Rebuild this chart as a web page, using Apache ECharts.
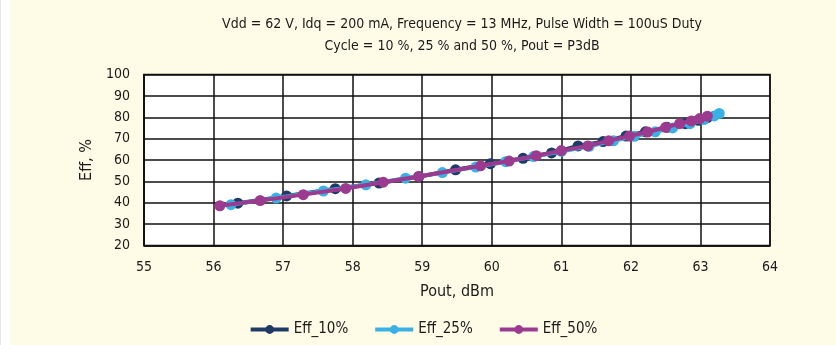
<!DOCTYPE html>
<html>
<head>
<meta charset="utf-8">
<script src="https://cdn.jsdelivr.net/npm/echarts@6/dist/echarts.min.js"></script>
<style>
html,body{margin:0;padding:0;background:#fff;}
#edge{position:absolute;left:0;top:0;width:1px;height:345px;background:#e6e6e6;}
#chart{position:absolute;left:10px;top:0;width:826px;height:345px;background:#FEFCE7;}
</style>
</head>
<body>
<div id="edge"></div>
<div id="chart"></div>
<script>
var titleLines = ['Vdd = 62 V, Idq = 200 mA, Frequency = 13 MHz, Pulse Width = 100uS Duty', 'Cycle = 10 %, 25 % and 50 %, Pout = P3dB'];
var seriesNames = ['Eff_10%', 'Eff_25%', 'Eff_50%'];
var eff10 = [[56.35,39.8],[57.05,43.2],[57.75,46.6],[58.38,49.2],[58.95,52.2],[59.48,55.4],[59.98,58.3],[60.45,60.8],[60.86,63.3],[61.24,66.6],[61.6,68.6],[61.93,71.2],[62.21,73.2],[62.52,75.3],[62.78,77.0],[62.97,78.6],[63.1,79.8]];
var eff25 = [[56.25,39.1],[56.9,42.2],[57.58,45.5],[58.19,48.4],[58.76,51.5],[59.29,54.1],[59.77,56.7],[60.2,59.2],[60.6,61.6],[61.0,64.0],[61.4,66.4],[61.75,69.0],[62.05,71.1],[62.35,73.2],[62.6,75.0],[62.85,77.0],[63.05,78.9],[63.2,80.6],[63.27,81.8]];
var eff50 = [[56.09,38.6],[56.67,41.0],[57.29,43.8],[57.9,46.7],[58.44,49.6],[58.95,52.3],[59.84,57.3],[60.25,59.5],[60.64,62.0],[61.0,64.4],[61.38,66.6],[61.68,69.0],[61.98,71.2],[62.24,73.1],[62.5,75.3],[62.7,77.0],[62.87,78.3],[62.99,79.4],[63.1,80.5]];
var colors = ['#1E3A66', '#3AB0E4', '#9B3A8F'];
var xTicks = [55,56,57,58,59,60,61,62,63,64];
var yTicks = [20,30,40,50,60,70,80,90,100];

var FONT = "'DejaVu Sans Condensed', 'Roboto', sans-serif";
var chart = echarts.init(document.getElementById('chart'));
var datasets = [eff10, eff25, eff50];
chart.setOption({
  backgroundColor: 'transparent',
  color: colors,
  textStyle: {fontFamily: FONT},
  title: {
    text: titleLines.join('\n'),
    left: 447, top: 8, textAlign: 'center',
    textStyle: {fontFamily: FONT, fontSize: 14, fontWeight: 'normal', color: '#1a1a1a', lineHeight: 22}
  },
  legend: {
    bottom: 3, left: 'center',
    itemWidth: 38, itemHeight: 11, itemGap: 25,
    lineStyle: {width: 4},
    textStyle: {fontFamily: FONT, fontSize: 15, color: '#1a1a1a'},
    data: seriesNames
  },
  grid: {left: 134, right: 66, top: 74.5, bottom: 99.5, show: true, backgroundColor: '#ffffff', borderColor: '#111', borderWidth: 1.5},
  xAxis: {
    type: 'value', min: xTicks[0], max: xTicks[xTicks.length-1], interval: 1,
    name: 'Pout, dBm', nameLocation: 'middle', nameGap: 38,
    nameTextStyle: {fontFamily: FONT, fontSize: 16, color: '#1a1a1a'},
    axisLine: {show: true, lineStyle: {color: '#111', width: 1.5}},
    axisTick: {show: false},
    axisLabel: {fontFamily: FONT, fontSize: 14, color: '#1a1a1a', margin: 15},
    splitLine: {show: true, lineStyle: {color: '#111', width: 1.5}}
  },
  yAxis: {
    type: 'value', min: yTicks[0], max: yTicks[yTicks.length-1], interval: 10,
    name: 'Eff, %', nameLocation: 'middle', nameGap: 48,
    nameTextStyle: {fontFamily: FONT, fontSize: 16, color: '#1a1a1a'},
    axisLine: {show: true, lineStyle: {color: '#111', width: 1.5}},
    axisTick: {show: false},
    axisLabel: {fontFamily: FONT, fontSize: 14, color: '#1a1a1a', margin: 14},
    splitLine: {show: true, lineStyle: {color: '#111', width: 1.5}}
  },
  series: seriesNames.map(function(n, i){
    return {
      name: n, type: 'line', data: datasets[i],
      symbol: 'circle', symbolSize: 11,
      lineStyle: {width: 4, color: colors[i]},
      itemStyle: {color: colors[i]},
      animation: false, z: 2 + i
    };
  })
});
</script>
</body>
</html>
